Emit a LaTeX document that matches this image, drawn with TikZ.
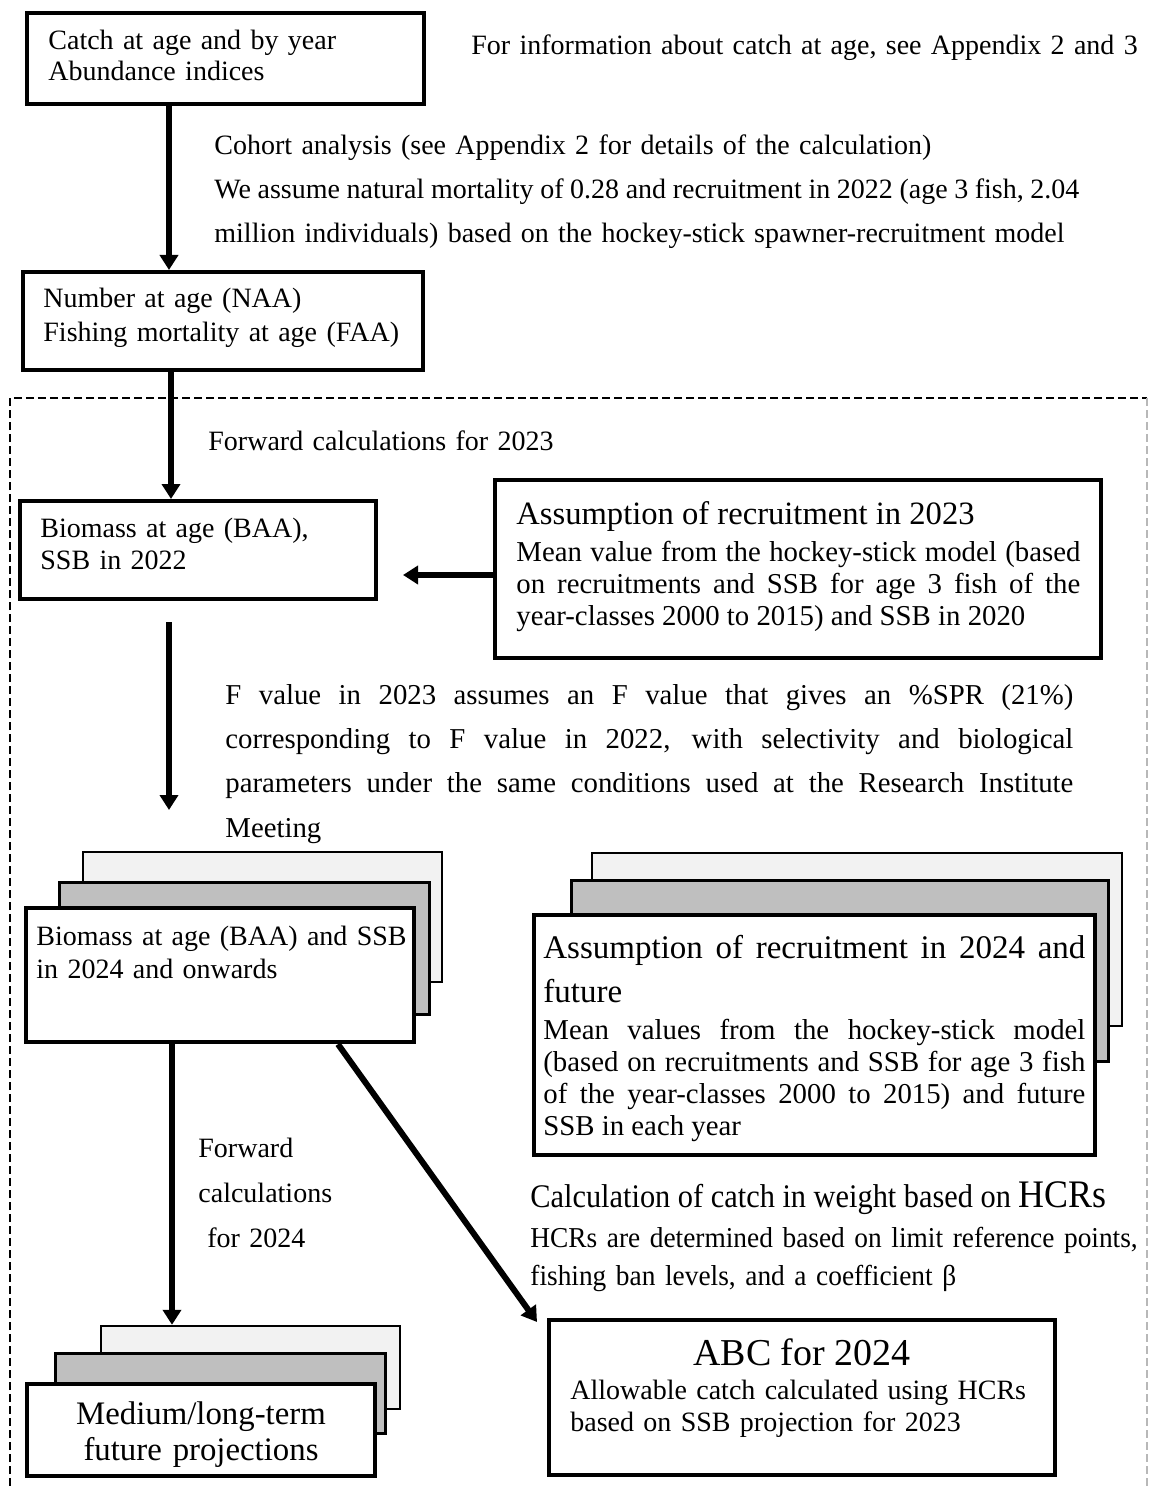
\documentclass[tikz,border=0pt]{standalone}
\usepackage{fontspec}
\setmainfont{Liberation Serif}
\newfontfamily\condA{Liberation Serif}[FakeStretch=0.92]
\newfontfamily\condB{Liberation Serif}[FakeStretch=0.95]
\usetikzlibrary{arrows.meta}
\definecolor{backgray}{HTML}{F2F2F2}
\definecolor{midgray}{HTML}{BFBFBF}
\definecolor{framegray}{HTML}{B8B8B8}
\newcommand\mkbox[6]{\node[#6, minimum width={((#4)-(#2))*0.5pt}, minimum height={((#5)-(#3))*0.5pt}] (#1) at ({((#2)+(#4))/2},{((#3)+(#5))/2}) {};}
\begin{document}
\begin{tikzpicture}[x=0.5pt,y=-0.5pt,
  bx/.style={draw, line width=2pt, inner sep=0pt, fill=white},
  backbx/.style={draw, line width=1.2pt, inner sep=0pt, fill=backgray},
  midbx/.style={draw, line width=1.6pt, inner sep=0pt, fill=midgray},
  frontbx/.style={draw, line width=2.2pt, inner sep=0pt, fill=white},
  txt/.style={inner sep=0pt, anchor=base west, text width=460pt, align=left, font=\fontsize{14pt}{#1}\selectfont},
  txt/.default=17pt,
  jtxt/.style 2 args={inner sep=0pt, anchor=base west, text width=#1, align=justify, font=\fontsize{14.4pt}{#2}\selectfont},
  arr/.style={line width=3pt, -{Triangle[length=7.5pt,width=9pt]}},
  frame/.style={line width=0.75pt, dash pattern=on 4pt off 2pt}
]
\useasboundingbox (0,0) rectangle (1148,1486);

% dashed frame
\draw[frame] (10,1486) -- (10,398) -- (1147,398);
\draw[frame, framegray, line width=0.6pt] (1147,398) -- (1147,1486);

% boxes
\mkbox{box1}{27}{13}{424}{104}{bx}
\mkbox{box2}{23}{272}{423}{370}{bx}
\mkbox{box3}{20}{501}{376}{599}{bx}
\mkbox{box4}{495}{480}{1101}{658}{bx}
\mkbox{back1}{83}{852}{442}{982}{backbx}
\mkbox{mid1}{59.5}{882.5}{429.5}{1014.5}{midbx}
\mkbox{front1}{26}{908}{414}{1042}{frontbx}
\mkbox{back2}{592}{853}{1122}{1026}{backbx}
\mkbox{mid2}{571.5}{880.5}{1108.5}{1061.5}{midbx}
\mkbox{front2}{534}{915}{1095}{1155}{frontbx}
\mkbox{abc}{549}{1320}{1055}{1475}{bx}
\mkbox{back3}{101}{1326}{400}{1409}{backbx}
\mkbox{mid3}{55.5}{1353.5}{385.5}{1433.5}{midbx}
\mkbox{front3}{27}{1384}{375}{1476}{frontbx}

% texts
\node[txt=15.5pt] (t1) at (48,50) {Catch at age and by year\\Abundance indices};
\node[txt] (info) at (471,55) {For information about catch at age, see Appendix 2 and 3};
\node[txt=22pt] (cohort) at (214,155) {Cohort analysis (see Appendix 2 for details of the calculation)\\{\spaceskip=3.3pt\relax We assume natural mortality of 0.28 and recruitment in 2022 (age 3 fish, 2.04}\\million individuals) based on the hockey-stick spawner-recruitment model};
\node[txt=17pt] (t2) at (43,308) {Number at age (NAA)\\Fishing mortality at age (FAA)};
\node[txt] (fwd1) at (208,451) {Forward calculations for 2023};
\node[txt=16pt] (t3) at (40,537) {Biomass at age (BAA),\\SSB in 2022};
\node[inner sep=0pt, anchor=base west, font=\fontsize{16.3pt}{20pt}\selectfont] (t4a) at (516,524) {Assumption of recruitment in 2023};
\node[jtxt={282pt}{16pt}] (t4b) at (516,561) {Mean value from the hockey-stick model (based\linebreak on recruitments and SSB for age 3 fish of the\linebreak year-classes 2000 to 2015) and SSB in 2020};
\node[jtxt={424pt}{22.2pt}] (fval) at (225,704) {F value in 2023 assumes an F value that gives an \%SPR (21\%)\linebreak corresponding to F value in 2022, with selectivity and biological\linebreak parameters under the same conditions used at the Research Institute\linebreak Meeting};
\node[txt=16.5pt] (t5) at (36,945) {Biomass at age (BAA) and SSB\\in 2024 and onwards};
\node[inner sep=0pt, anchor=base west, text width=271pt, align=justify, font=\fontsize{16.5pt}{22pt}\selectfont] (t6a) at (543,958) {Assumption of recruitment in 2024 and\linebreak future};
\node[jtxt={271pt}{16pt}] (t6b) at (543,1039) {Mean values from the hockey-stick model\linebreak (based on recruitments and SSB for age 3 fish\linebreak of the year-classes 2000 to 2015) and future\linebreak SSB in each year};
\node[txt=22.5pt] (fwd2) at (198,1157) {Forward\\calculations\\\hspace*{4.5pt}for 2024};
\node[inner sep=0pt, anchor=base west, font=\condA\fontsize{16.5pt}{20pt}\selectfont] (calc1) at (530,1207) {Calculation of catch in weight based on {\fontsize{19.5pt}{20pt}\selectfont HCRs}};
\node[inner sep=0pt, anchor=base west, text width=460pt, align=left, font=\condB\fontsize{14.4pt}{19pt}\selectfont] (calc2) at (530,1247) {HCRs are determined based on limit reference points,\\fishing ban levels, and a coefficient β};
\node[inner sep=0pt, anchor=base, font=\fontsize{19pt}{20pt}\selectfont] (abc1) at (802,1365) {ABC for 2024};
\node[txt=16pt] (abc2) at (570,1399) {Allowable catch calculated using HCRs\\based on SSB projection for 2023};
\node[inner sep=0pt, anchor=base, text width=200pt, align=center, font=\fontsize{16.4pt}{18pt}\selectfont] (med) at (201,1424) {Medium/long-term\\future projections};

% connectors
\coordinate (xa) at (169,0);
\coordinate (xb) at (171,0);
\coordinate (xc) at (172,0);
\coordinate (xd) at (338,0);
\coordinate (ya) at (0,575);
\coordinate (f1) at (169,622);
\coordinate (f2) at (169,810);
\coordinate (dend) at (537,1322);
\draw[arr] (box1.south -| xa) -- (box2.north -| xa);
\draw[arr] (box2.south -| xb) -- (box3.north -| xb);
\draw[arr, shorten >=12.5pt] (box4.west |- ya) -- (box3.east |- ya);
\draw[arr] (f1) -- (f2);
\draw[arr] (front1.south -| xc) -- (back3.north -| xc);
\draw[arr] (front1.south -| xd) -- (dend);
\end{tikzpicture}
\end{document}
